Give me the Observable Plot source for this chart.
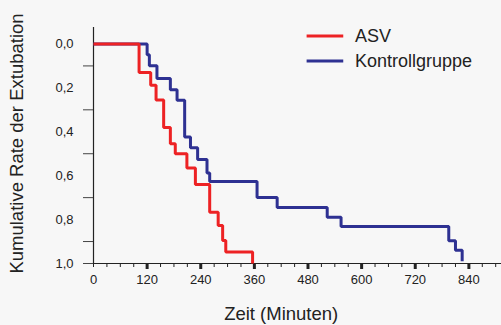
<!DOCTYPE html>
<html>
<head>
<meta charset="utf-8">
<script src="https://cdn.jsdelivr.net/npm/d3@7"></script>
<script src="https://cdn.jsdelivr.net/npm/@observablehq/plot@0.6"></script>
<style>
  html, body { margin: 0; padding: 0; background: #f7f7f7; }
  #chart { width: 501px; height: 325px; overflow: hidden; }
</style>
</head>
<body>
<div id="chart"></div>
<script>
// Data (Kaplan–Meier style step curves)
const seriesNames = ["ASV", "Kontrollgruppe"];
const seriesColors = ["#ed2224", "#2e3192"];

const asvTime = [0, 102, 128, 140, 157, 172, 183, 209, 228, 260, 279, 289, 296, 356];
const asvRate = [0, 0.13, 0.188, 0.255, 0.38, 0.455, 0.50, 0.565, 0.64, 0.767, 0.827, 0.895, 0.948, 1.0];

const kgTime = [0, 120, 125, 142, 172, 187, 204, 217, 233, 254, 260, 366, 411, 523, 554, 795, 810, 825];
const kgRate = [0, 0.049, 0.099, 0.157, 0.209, 0.256, 0.424, 0.473, 0.526, 0.588, 0.626, 0.699, 0.745, 0.789, 0.832, 0.896, 0.94, 0.99];

const xMajorTicks = [0, 120, 240, 360, 480, 600, 720, 840];
const xMinorTicks = d3.range(0, 901, 30);
const yLabelTicks = [0, 0.2, 0.4, 0.6, 0.8, 1.0];
const yMarkTicks = [0.1, 0.3, 0.5, 0.7, 0.9, 1.0];

const xLabel = "Zeit (Minuten)";
const yLabel = "Kumulative Rate der Extubation";

const asv = asvTime.map((t, i) => ({t, r: asvRate[i]}));
const kg = kgTime.map((t, i) => ({t, r: kgRate[i]}));

const fmt = d => d.toFixed(1).replace(".", ",");
const ink = "#222";

const legendX1 = 478, legendX2 = 560, legendTextX = 585;
const legendY = [-0.036, 0.078];

const chart = Plot.plot({
  width: 501,
  height: 325,
  marginLeft: 93,
  marginRight: 0,
  marginTop: 27,
  marginBottom: 62,
  style: {background: "#f7f7f7", fontFamily: "'Liberation Sans', Arial, sans-serif", fontSize: "13px", color: ink},
  x: {domain: [0, 913], axis: null},
  y: {domain: [-0.075, 1.0], reverse: true, axis: null},
  marks: [
    // y axis line
    Plot.ruleX([0], {y1: -0.075, y2: 1.0, stroke: ink, strokeWidth: 1.2}),
    // x axis line
    Plot.ruleY([1.0], {stroke: ink, strokeWidth: 1.2}),
    // y ticks (odd tenths) and labels (even tenths)
    Plot.axisY({ticks: yMarkTicks, tickSize: 10, tickFormat: () => "", label: null, stroke: "#444"}),
    Plot.axisY({ticks: yLabelTicks, tickSize: 0, tickPadding: 20, tickFormat: fmt, label: null, fontSize: 13, fill: ink}),
    // x minor and major ticks
    Plot.axisX({ticks: xMinorTicks, tickSize: 4, tickFormat: () => "", label: null, stroke: ink}),
    Plot.axisX({ticks: xMajorTicks.filter(d => d > 0), tickSize: 6, strokeWidth: 3, tickFormat: () => "", label: null, stroke: ink}),
    Plot.axisX({ticks: xMajorTicks, tickSize: 0, tickPadding: 11, tickFormat: d => String(d), label: null, fontSize: 13, fill: ink}),
    // curves
    Plot.line(kg, {x: "t", y: "r", curve: "step-after", stroke: seriesColors[1], strokeWidth: 3, strokeLinejoin: "miter", strokeLinecap: "butt"}),
    Plot.line(asv, {x: "t", y: "r", curve: "step-after", stroke: seriesColors[0], strokeWidth: 3, strokeLinejoin: "miter", strokeLinecap: "butt"}),
    // legend
    ...seriesNames.map((name, i) => Plot.ruleY([legendY[i]], {x1: legendX1, x2: legendX2, stroke: seriesColors[i], strokeWidth: 3})),
    ...seriesNames.map((name, i) => Plot.text([name], {x: legendTextX, y: legendY[i], text: d => d, textAnchor: "start", fontSize: 18, fill: ink})),
    // axis titles
    Plot.text([xLabel], {x: 420, y: 1.0, dy: 51, text: d => d, fontSize: 18.5, fill: ink}),
    Plot.text([yLabel], {frameAnchor: "left", dx: -76, dy: -2, rotate: -90, textAnchor: "middle", text: d => d, fontSize: 18.5, fill: ink})
  ]
});

document.getElementById("chart").appendChild(chart);
</script>
</body>
</html>
